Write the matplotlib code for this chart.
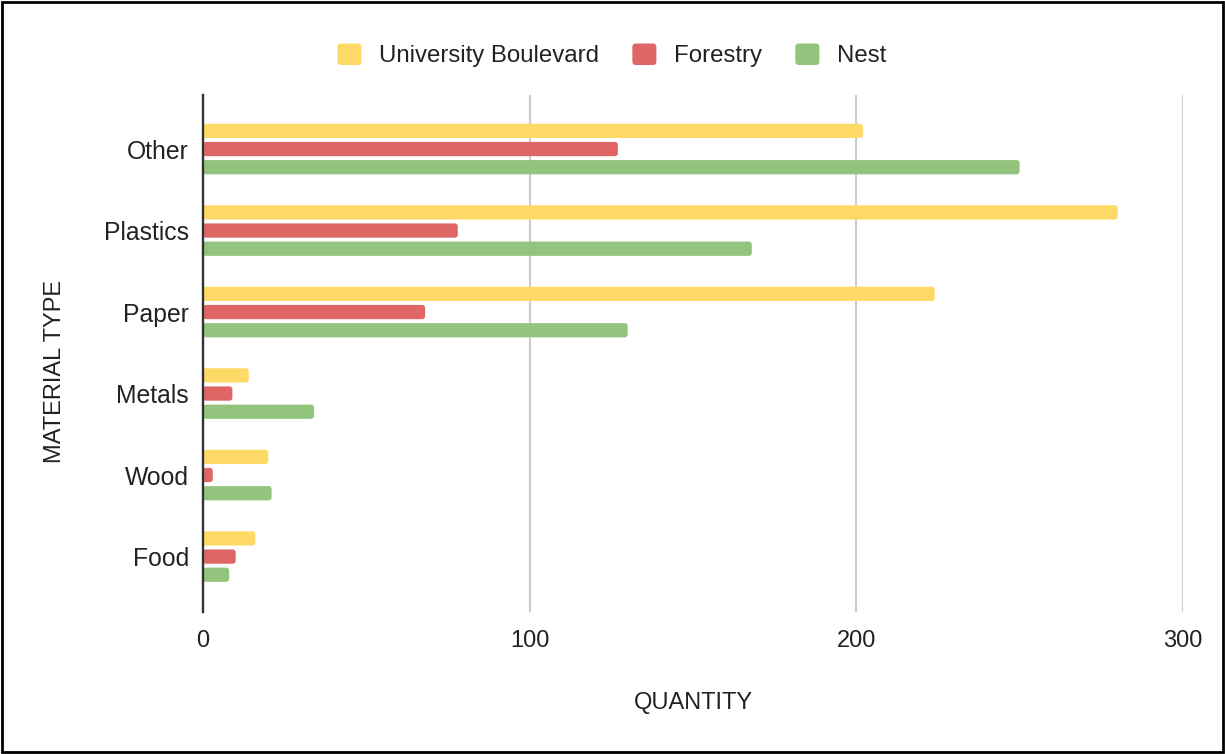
import matplotlib.pyplot as plt
import numpy as np
from matplotlib.patches import FancyBboxPatch, Rectangle, Patch
from matplotlib.legend_handler import HandlerPatch

plt.rcParams['font.family'] = ['Liberation Sans', 'DejaVu Sans']

# 재료별 수량
categories = ['Other', 'Plastics', 'Paper', 'Metals', 'Wood', 'Food']
university_blvd = [202, 280, 224, 14, 20, 16]
forestry = [127, 78, 68, 9, 3, 10]
nest = [250, 168, 130, 34, 21, 8]

series = [('University Boulevard', university_blvd, '#FFD966'),
          ('Forestry', forestry, '#E06666'),
          ('Nest', nest, '#93C47D')]

text_color = '#222222'

fig = plt.figure(figsize=(12.25, 7.54), dpi=100)
ax = fig.add_axes([203 / 1225, 1 - 612 / 754, 980 / 1225, 517 / 754])

y = np.arange(len(categories))
bar_h = 0.175
step = 0.223

handles = []
for i, (name, vals, color) in enumerate(series):
    bars = ax.barh(y + (i - 1) * step, vals, height=bar_h, color=color)
    handles.append(Patch(facecolor=color, edgecolor='none', label=name))
    # 막대 끝을 둥글게
    for r in bars.patches:
        r.set_visible(False)
        fb = FancyBboxPatch((r.get_x(), r.get_y()), r.get_width(), r.get_height(),
                            boxstyle='round,pad=0,rounding_size=0.9',
                            mutation_aspect=0.04, facecolor=color,
                            edgecolor='none', zorder=3)
        ax.add_patch(fb)

ax.set_xlim(0, 300)
ax.set_ylim(5.68, -0.663)
ax.set_xticks([0, 100, 200, 300])
ax.set_yticks(y)
ax.set_yticklabels(categories)
ax.tick_params(axis='both', length=0, labelsize=17, colors=text_color)
ax.tick_params(axis='y', labelsize=17.8, pad=10)
ax.tick_params(axis='x', pad=13)

ax.grid(axis='x', color='#CCCCCC', linewidth=1.5)
ax.set_axisbelow(True)
for s in ['top', 'right', 'bottom']:
    ax.spines[s].set_visible(False)
ax.spines['left'].set_color('#333333')
ax.spines['left'].set_linewidth(1.7)
ax.spines['left'].set_zorder(4)

fig.text(693 / 1225, 1 - 703 / 754, 'QUANTITY', ha='center', va='center',
         fontsize=17, color=text_color)
fig.text(55 / 1225, 1 - 371 / 754, 'MATERIAL TYPE', ha='center', va='center',
         rotation=90, fontsize=17, color=text_color)


# 범례 아이콘도 둥근 사각형
def rounded_square(legend, orig_handle, xdescent, ydescent, width, height, fontsize):
    return FancyBboxPatch((-xdescent, -ydescent), width, height,
                          boxstyle='round,pad=0,rounding_size=2.5')


fig.legend(handles=handles, loc='center', bbox_to_anchor=(612 / 1225, 1 - 55.5 / 754),
           ncol=3, frameon=False, fontsize=17.3, handlelength=1.0, handleheight=1.0,
           handletextpad=0.75, columnspacing=1.37, labelcolor=text_color,
           handler_map={Patch: HandlerPatch(patch_func=rounded_square)})

# 바깥 테두리
fig.patches.append(Rectangle((0.0015, 0.002), 0.997, 0.996, transform=fig.transFigure,
                             fill=False, edgecolor='black', linewidth=2))

fig.savefig('out.png', dpi=100)
